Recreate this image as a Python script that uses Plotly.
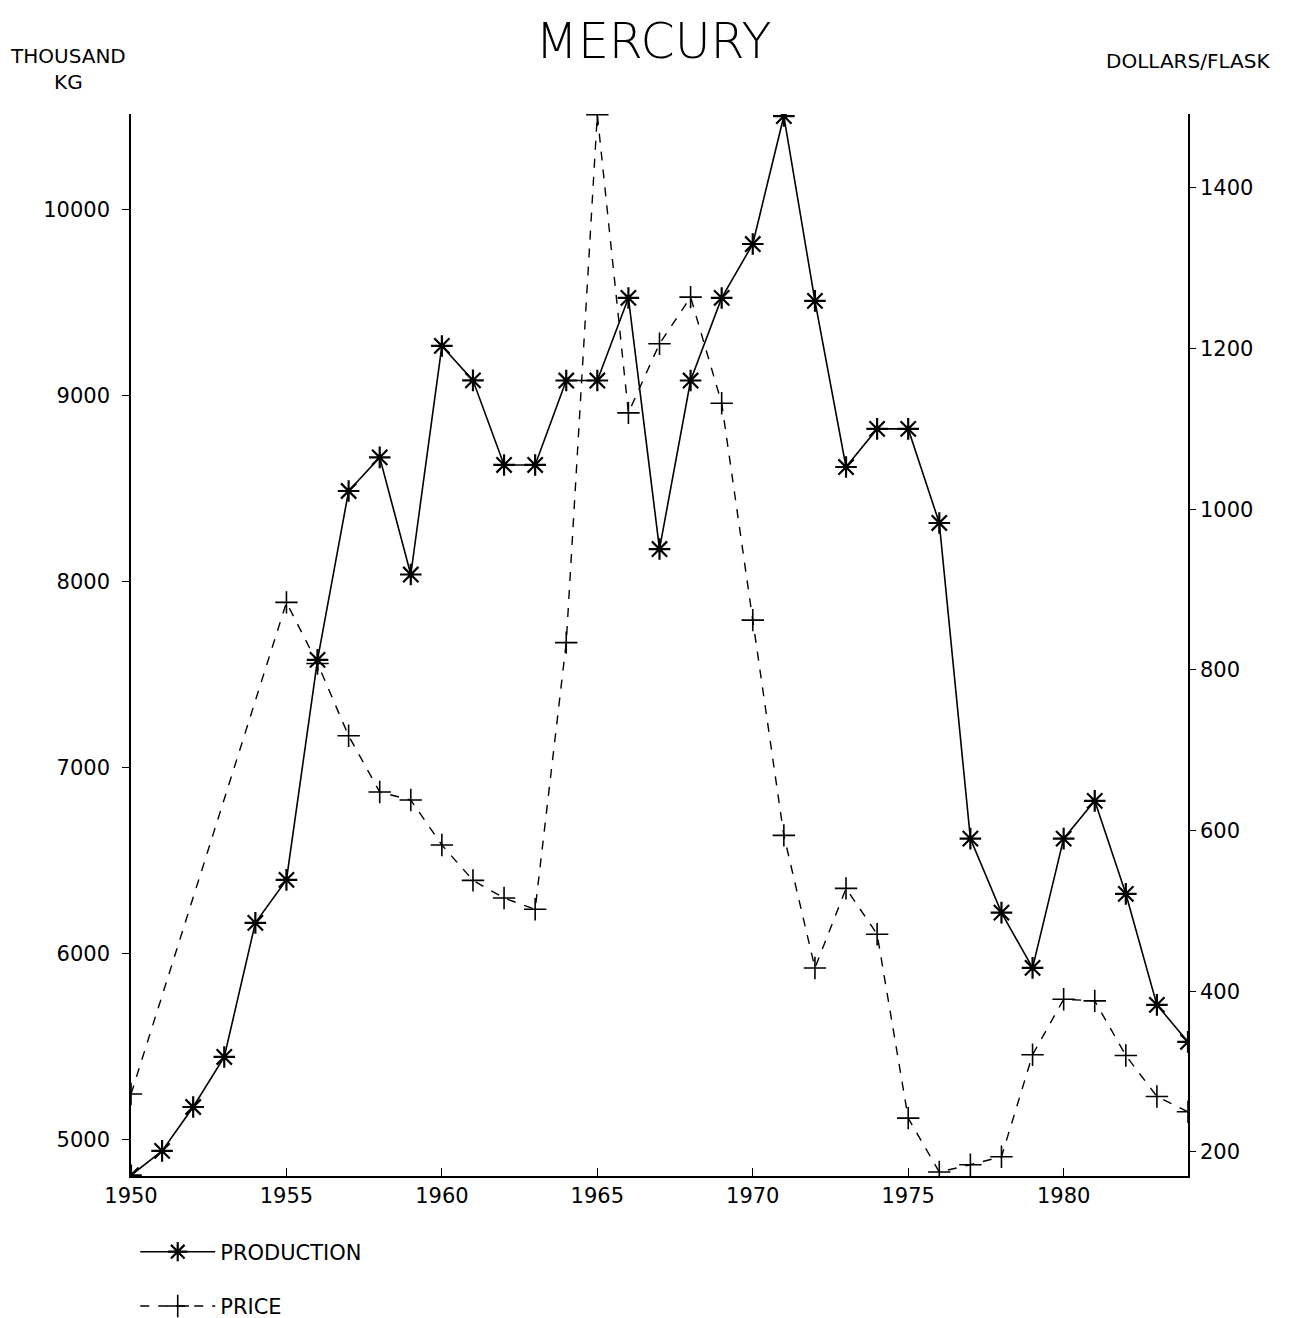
import plotly.graph_objects as go

# mercury production (thousand kg) and price (dollars/flask)
years = list(range(1950, 1985))
production = [4810, 4941, 5177, 5446, 6167, 6398, 7581, 8489, 8670, 8040,
              9269, 9084, 8629, 8629, 9083, 9083, 9527, 8177, 9083, 9527,
              9817, 10505, 9511, 8618, 8823, 8823, 8317, 6620, 6222, 5925,
              6620, 6823, 6323, 5726, 5527]
price = [272, None, None, None, None, 884, 808, 718, 648, 638,
         582, 538, 516, 502, 834, 1491, 1120, 1206, 1264, 1132,
         862, 594, 429, 528, 471, 242, 175, 184, 194, 321,
         390, 388, 320, 269, 250]

x_ticks = [1950, 1955, 1960, 1965, 1970, 1975, 1980]
left_ticks = [5000, 6000, 7000, 8000, 9000, 10000]
right_ticks = [200, 400, 600, 800, 1000, 1200, 1400]

font = "DejaVu Sans"

fig = go.Figure()
fig.add_trace(go.Scatter(
    x=years, y=production, name="PRODUCTION", mode="lines+markers",
    line=dict(color="black", width=1.6),
    marker=dict(symbol="asterisk-open", size=18, color="black",
                line=dict(color="black", width=2.2)),
    legendgroup="a"))
fig.add_trace(go.Scatter(
    x=years, y=price, name="PRICE", mode="lines+markers", yaxis="y2",
    connectgaps=True,
    line=dict(color="black", width=1.4, dash="dash"),
    marker=dict(symbol="cross-thin-open", size=16, color="black",
                line=dict(color="black", width=1.6)),
    legendgroup="b"))

# page has an 8px body margin, so the figure is sized to fit inside it
fig.update_layout(
    width=1291, height=1310,
    paper_bgcolor="white", plot_bgcolor="white",
    margin=dict(l=123, r=111, t=106, b=142, autoexpand=False),
    font=dict(family=font, color="black"),
    title=dict(text="MERCURY", x=0.5, xanchor="center", y=0.975, yanchor="middle",
               font=dict(size=49, family=font, color="black", weight=200)),
    xaxis=dict(range=[1950, 1984], tickvals=x_ticks, showgrid=False, zeroline=False,
               showline=True, linecolor="black", linewidth=1.5,
               ticks="inside", ticklen=8, tickcolor="black",
               tickfont=dict(size=21)),
    yaxis=dict(range=[4806, 10516], tickvals=left_ticks, tickformat="d",
               showgrid=False, zeroline=False,
               showline=True, linecolor="black", linewidth=1.5,
               ticks="outside", ticklen=7, tickcolor="black", ticklabelstandoff=8,
               tickfont=dict(size=21)),
    yaxis2=dict(range=[170, 1492], tickvals=right_ticks, overlaying="y", side="right",
                showgrid=False, zeroline=False,
                showline=True, linecolor="black", linewidth=1.5,
                ticks="outside", ticklen=6, tickcolor="black",
                tickfont=dict(size=21)),
    showlegend=True,
    legend=dict(x=0.004, xanchor="left", yref="container", y=0.066, yanchor="top",
                itemwidth=75, font=dict(size=21), tracegroupgap=24,
                bgcolor="rgba(0,0,0,0)"),
    annotations=[
        dict(text="THOUSAND<br>KG", xref="paper", yref="paper", x=-0.06, y=1.042,
             xanchor="center", yanchor="middle", showarrow=False,
             font=dict(size=20)),
        dict(text="DOLLARS/FLASK", xref="paper", yref="paper", x=1.0, y=1.05,
             xanchor="center", yanchor="middle", showarrow=False,
             font=dict(size=20)),
    ],
)

fig.write_html("out.html")
